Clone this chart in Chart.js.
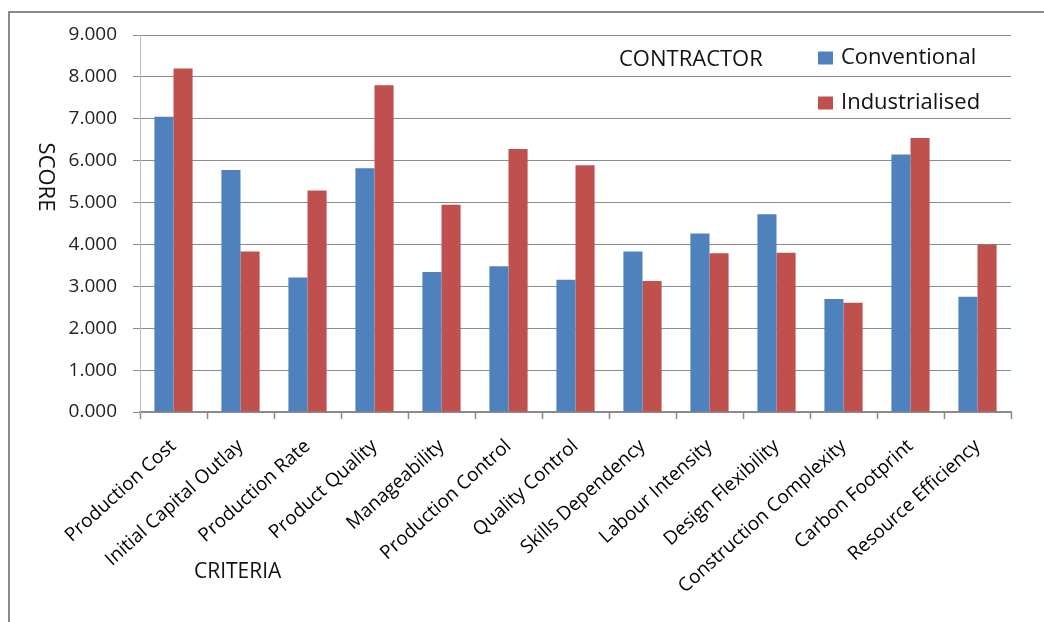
<!DOCTYPE html>
<html>
<head>
<meta charset="utf-8">
<script src="https://cdn.jsdelivr.net/npm/chart.js@4/dist/chart.umd.min.js"></script>
<style>
    html, body { margin: 0; padding: 0; background: #fff; }
    #wrap { position: relative; width: 1044px; height: 622px; }
    #frame {
        position: absolute; left: 8px; top: 11px; right: 0; bottom: 0;
        border-left: 2px solid #8a8a8a; border-top: 2px solid #8a8a8a;
        pointer-events: none;
    }
</style>
</head>
<body>
<div id="wrap">
    <canvas id="chart" width="1044" height="622"></canvas>
    <div id="frame"></div>
</div>
<script>
// Criteria on the x axis
const criteria = [
    'Production Cost', 'Initial Capital Outlay', 'Production Rate', 'Product Quality',
    'Manageability', 'Production Control', 'Quality Control', 'Skills Dependency',
    'Labour Intensity', 'Design Flexibility', 'Construction Complexity',
    'Carbon Footprint', 'Resource Efficiency'
];

// Scores
const conventional   = [7.05, 5.78, 3.21, 5.82, 3.34, 3.48, 3.16, 3.83, 4.26, 4.72, 2.70, 6.15, 2.75];
const industrialised = [8.20, 3.83, 5.29, 7.80, 4.95, 6.28, 5.89, 3.13, 3.79, 3.80, 2.61, 6.54, 4.00];

const chartTitle = 'CONTRACTOR';
const yTitle = 'SCORE';
const xTitle = 'CRITERIA';

const FONT = '"Open Sans", sans-serif';
const BLUE = '#4F81BD';
const RED = '#C0504D';

// Title, legend and axis titles sit at fixed spots like the Excel original
const annotations = {
    id: 'annotations',
    afterDraw(chart) {
        const ctx = chart.ctx;
        ctx.save();
        ctx.fillStyle = '#111';
        ctx.textBaseline = 'middle';

        ctx.font = '22px ' + FONT;
        ctx.textAlign = 'left';
        ctx.fillText(chartTitle, 619, 60);

        // legend
        const items = chart.data.datasets;
        const ys = [58, 103];
        items.forEach((ds, i) => {
            ctx.fillStyle = ds.backgroundColor;
            ctx.fillRect(818, ys[i] - 6.5, 15, 13);
            ctx.fillStyle = '#111';
            ctx.fillText(ds.label, 841, ys[i]);
        });

        // y title, reading top to bottom
        ctx.save();
        ctx.translate(45, 177);
        ctx.rotate(Math.PI / 2);
        ctx.textAlign = 'center';
        ctx.fillText(yTitle, 0, 0);
        ctx.restore();

        ctx.font = '21px ' + FONT;
        ctx.textAlign = 'left';
        ctx.fillText(xTitle, 194, 572);
        ctx.restore();
    }
};

new Chart(document.getElementById('chart'), {
    type: 'bar',
    data: {
        labels: criteria,
        datasets: [{
            label: 'Conventional',
            data: conventional,
            backgroundColor: BLUE,
            borderWidth: 0
        }, {
            label: 'Industrialised',
            data: industrialised,
            backgroundColor: RED,
            borderWidth: 0
        }]
    },
    options: {
        responsive: false,
        animation: false,
        categoryPercentage: 0.57,
        barPercentage: 1.0,
        layout: {
            padding: { left: 0, top: 35, right: 33, bottom: 0 }
        },
        plugins: {
            legend: { display: false },
            tooltip: { enabled: false }
        },
        scales: {
            x: {
                afterFit(scale) { scale.height = 210; },
                grid: {
                    offset: true,
                    drawOnChartArea: false,
                    drawTicks: true,
                    tickLength: 7,
                    tickColor: '#8a8a8a',
                    tickWidth: 1.5
                },
                border: { color: '#8a8a8a', width: 2 },
                ticks: {
                    autoSkip: false,
                    minRotation: 42,
                    maxRotation: 42,
                    padding: 16,
                    color: '#000',
                    font: { family: FONT, size: 19 }
                }
            },
            y: {
                min: 0,
                max: 9,
                afterFit(scale) { scale.width = 140; },
                grid: {
                    color: '#8c8c8c',
                    lineWidth: 1,
                    tickLength: 7,
                    tickColor: '#8c8c8c'
                },
                border: { color: '#bdbdbd', width: 1 },
                ticks: {
                    stepSize: 1,
                    padding: 16,
                    color: '#222',
                    font: { family: FONT, size: 19 },
                    callback: v => v.toFixed(3)
                }
            }
        }
    },
    plugins: [annotations]
});
</script>
</body>
</html>
